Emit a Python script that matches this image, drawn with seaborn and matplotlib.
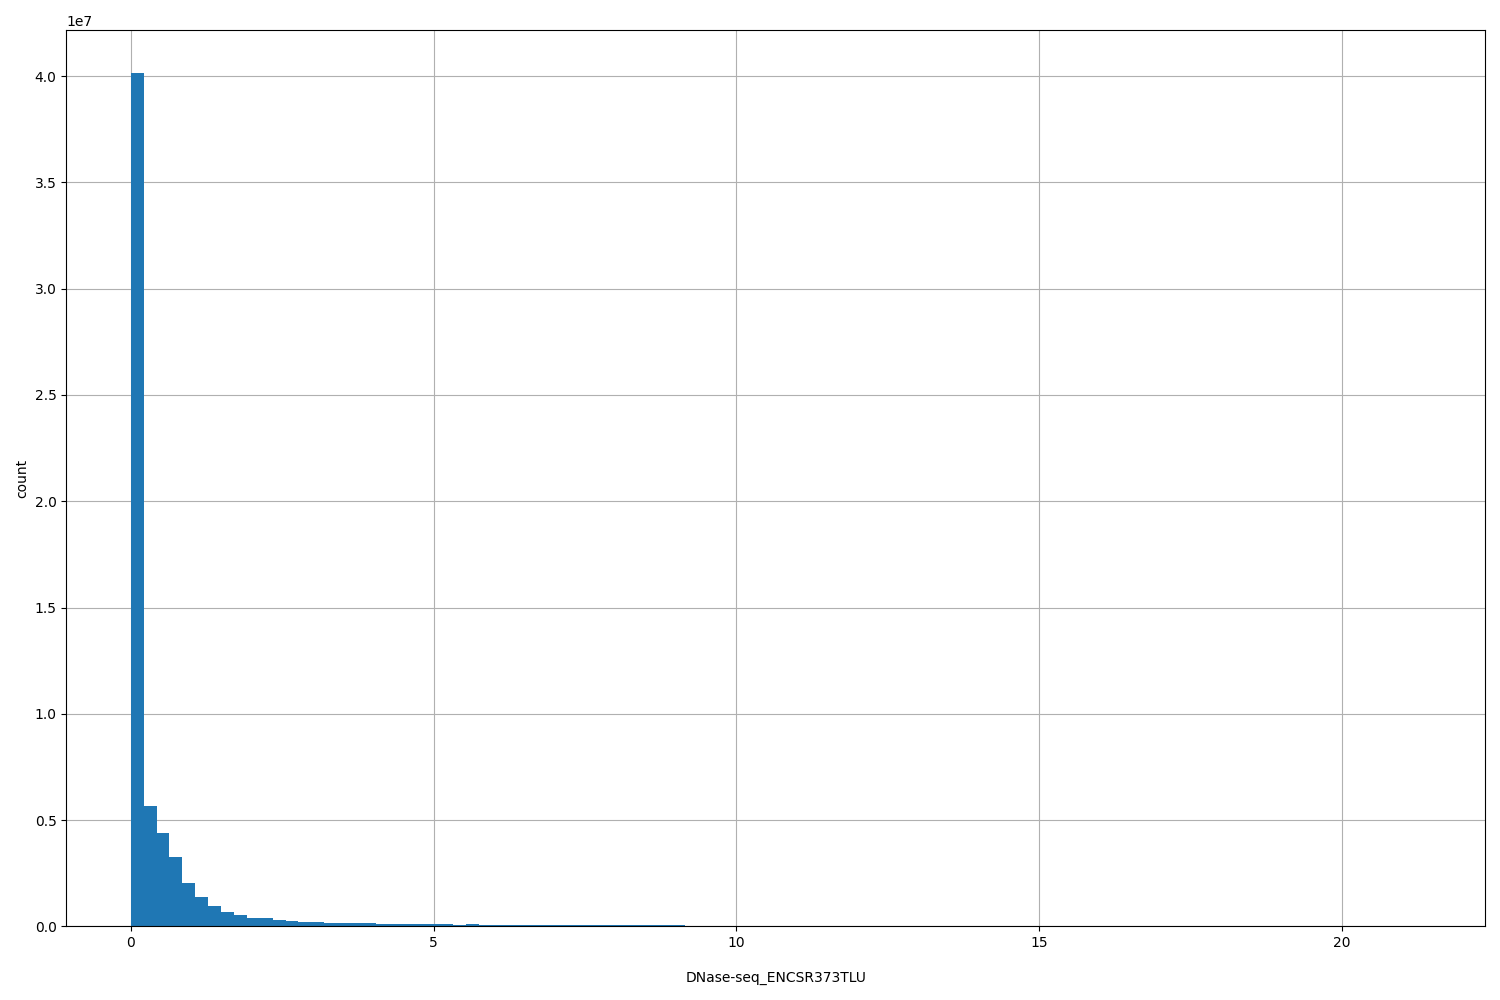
import numpy as np
import pandas as pd
import matplotlib
matplotlib.use("Agg")
import matplotlib.pyplot as plt
import seaborn as sns

# histogram of signal values, 100 equal bins from 0 to max
x_min = 0.0
x_max = 21.3
n_bins = 100
counts_head = [
    40150000, 5650000, 4380000, 3250000, 2030000, 1370000, 940000, 700000,
    520000, 420000, 375000, 285000, 235000, 230000, 190000, 185000,
    145000, 142000, 140000, 138000, 100000, 98000, 96000, 95000,
    93000, 60000, 100000, 58000, 57000, 56000, 55000, 54000,
    53000, 52000, 51000, 50000, 50000, 49000, 48000, 48000,
    47000, 46000, 45000,
]
counts_tail = [0] * (n_bins - len(counts_head))
counts = counts_head + counts_tail

edges = np.linspace(x_min, x_max, n_bins + 1)
centers = (edges[:-1] + edges[1:]) / 2
df = pd.DataFrame({'value': centers, 'count': counts})

fig, ax = plt.subplots(figsize=(15, 10), dpi=100)
sns.histplot(data=df, x='value', weights='count', bins=n_bins,
             binrange=(x_min, x_max), ax=ax,
             color='#1f77b4', alpha=1.0, linewidth=0)
ax.grid(True, color='#b0b0b0', linewidth=0.8)
ax.set_axisbelow(True)
ax.set_xlabel('DNase-seq_ENCSR373TLU', labelpad=15)
ax.set_ylabel('count')
ax.margins(x=0.05)
plt.tight_layout()
plt.savefig('out.png')
